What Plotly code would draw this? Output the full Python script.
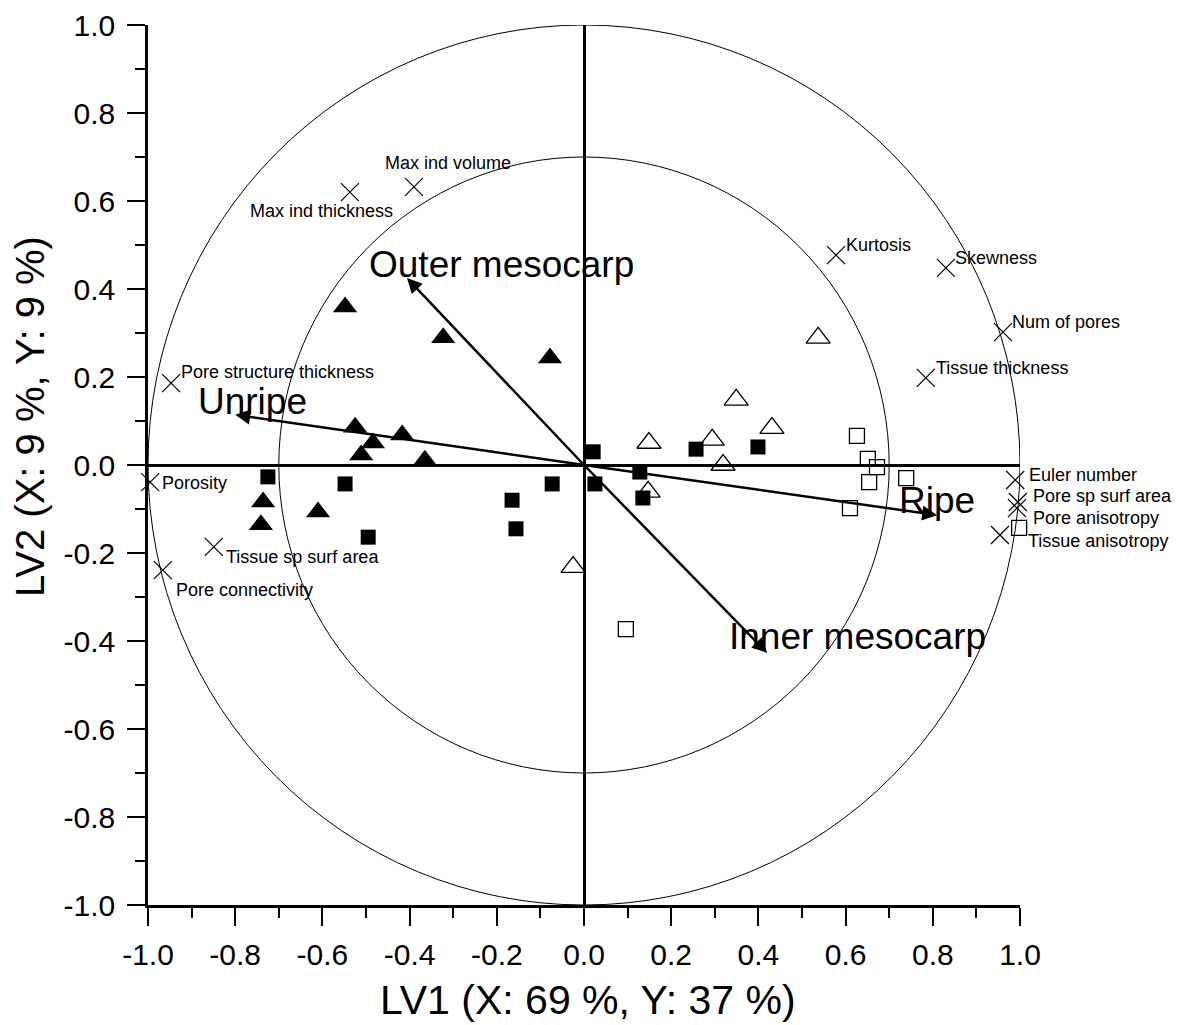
import plotly.graph_objects as go

# ---------------- data ----------------
# Filled triangles
ftri_x = [-0.548, -0.323, -0.078, -0.525, -0.484, -0.417, -0.511, -0.365, -0.736, -0.741, -0.610]
ftri_y = [0.359, 0.289, 0.243, 0.086, 0.050, 0.068, 0.023, 0.011, -0.084, -0.136, -0.107]
# Filled squares
fsq_x = [-0.725, -0.548, -0.495, 0.021, -0.073, -0.165, -0.156, 0.025, 0.128, 0.135, 0.257, 0.399]
fsq_y = [-0.027, -0.043, -0.164, 0.030, -0.043, -0.080, -0.145, -0.043, -0.016, -0.075, 0.036, 0.041]
# Open triangles
otri_x = [0.349, 0.149, 0.294, 0.319, 0.431, 0.147, -0.025, 0.537]
otri_y = [0.148, 0.050, 0.057, 0.000, 0.084, -0.061, -0.232, 0.289]
# Open squares
osq_x = [0.096, 0.626, 0.651, 0.672, 0.654, 0.739, 0.610, 0.998]
osq_y = [-0.373, 0.066, 0.014, -0.005, -0.039, -0.030, -0.098, -0.143]

# Variables (X loadings)
var_names = ["Max ind volume", "Max ind thickness", "Pore structure thickness", "Porosity",
             "Tissue sp surf area", "Pore connectivity", "Kurtosis", "Skewness", "Num of pores",
             "Tissue thickness", "Pore fragmentation", "Euler number", "Pore sp surf area",
             "Pore anisotropy", "Tissue anisotropy"]
var_x = [-0.390, -0.537, -0.947, -0.995, -0.849, -0.966, 0.578, 0.830, 0.961,
         0.784, 1.007, 0.989, 0.995, 0.993, 0.954]
var_y = [0.632, 0.620, 0.186, -0.039, -0.186, -0.239, 0.477, 0.448, 0.302,
         0.198, 0.095, -0.034, -0.084, -0.098, -0.159]

# Group vectors (Y loadings)
grp_names = ["Outer mesocarp", "Unripe", "Ripe", "Inner mesocarp"]
grp_x = [-0.406, -0.800, 0.810, 0.420]
grp_y = [0.425, 0.114, -0.114, -0.427]

circle_radii = [1.0, 0.7]
tick_vals = [-1.0, -0.8, -0.6, -0.4, -0.2, 0.0, 0.2, 0.4, 0.6, 0.8, 1.0]
tick_text = ["-1.0", "-0.8", "-0.6", "-0.4", "-0.2", "0.0", "0.2", "0.4", "0.6", "0.8", "1.0"]
x_title = "LV1 (X: 69 %, Y: 37 %)"
y_title = "LV2 (X: 9 %, Y: 9 %)"

# ---------------- label placement (pixel offsets) ----------------
var_label_style = {
    "Max ind volume": ("center", 34, 24),
    "Max ind thickness": ("center", -28, -19),
    "Pore structure thickness": ("left", 8, 11),
    "Porosity": ("left", 10, -1),
    "Tissue sp surf area": ("left", 10, -10),
    "Pore connectivity": ("left", 11, -20),
    "Kurtosis": ("left", 8, 10),
    "Skewness": ("left", 7, 10),
    "Num of pores": ("left", 7, 10),
    "Tissue thickness": ("left", 8, 10),
    "Pore fragmentation": ("left", 8, 10),
    "Euler number": ("left", 12, 5),
    "Pore sp surf area": ("left", 13, 6),
    "Pore anisotropy": ("left", 14, -10),
    "Tissue anisotropy": ("left", 26, -6),
}
grp_label_shift = {
    "Outer mesocarp": (95, 14),
    "Unripe": (17, 13),
    "Ripe": (0, 15),
    "Inner mesocarp": (90, 16),
}

FONT = "Arial, Liberation Sans, sans-serif"
W, H = 1201, 1025
ML, MR, MT, MB = 148, 181, 25, 120
PW, PH = W - ML - MR, H - MT - MB


def px_to_paper(px, py):
    return (px - ML) / PW, (H - MB - py) / PH


fig = go.Figure()

fig.add_trace(go.Scatter(x=ftri_x, y=ftri_y, mode="markers", name="Unripe outer",
                         marker=dict(symbol="triangle-up", size=21, color="black"),
                         cliponaxis=False))
fig.add_trace(go.Scatter(x=fsq_x, y=fsq_y, mode="markers", name="Unripe inner",
                         marker=dict(symbol="square", size=15, color="black"),
                         cliponaxis=False))
fig.add_trace(go.Scatter(x=otri_x, y=otri_y, mode="markers", name="Ripe outer",
                         marker=dict(symbol="triangle-up-open", size=21, color="black",
                                     line=dict(width=1.3, color="black")),
                         cliponaxis=False))
fig.add_trace(go.Scatter(x=osq_x, y=osq_y, mode="markers", name="Ripe inner",
                         marker=dict(symbol="square-open", size=15, color="black",
                                     line=dict(width=1.3, color="black")),
                         cliponaxis=False))
fig.add_trace(go.Scatter(x=var_x, y=var_y, mode="markers", name="Variables",
                         marker=dict(symbol="x-thin-open", size=18, color="black",
                                     line=dict(width=1.2, color="black")),
                         cliponaxis=False))

# circles
for r in circle_radii:
    fig.add_shape(type="circle", xref="x", yref="y", x0=-r, y0=-r, x1=r, y1=r,
                  line=dict(color="black", width=1), layer="below")

annotations = []
for n, x, y in zip(var_names, var_x, var_y):
    anchor, dx, dy = var_label_style[n]
    annotations.append(dict(x=x, y=y, xref="x", yref="y", text=n, showarrow=False,
                            xanchor=anchor, yanchor="middle", xshift=dx, yshift=dy,
                            font=dict(family=FONT, size=18, color="black")))
for n, x, y in zip(grp_names, grp_x, grp_y):
    annotations.append(dict(x=x, y=y, xref="x", yref="y", ax=0, ay=0, axref="x", ayref="y",
                            text="", showarrow=True, arrowhead=2, arrowsize=1.2,
                            arrowwidth=2.5, arrowcolor="black", standoff=0, startstandoff=0))
    dx, dy = grp_label_shift[n]
    annotations.append(dict(x=x, y=y, xref="x", yref="y", text=n, showarrow=False,
                            xanchor="center", yanchor="middle", xshift=dx, yshift=dy,
                            font=dict(family=FONT, size=37, color="black")))

# axis titles as paper annotations (pixel-placed)
yx, yy = px_to_paper(30, 417)
annotations.append(dict(x=yx, y=yy, xref="paper", yref="paper", text=y_title, showarrow=False,
                        textangle=-90, xanchor="center", yanchor="middle",
                        font=dict(family=FONT, size=40, color="black")))
xx, xy = px_to_paper(588, 1000)
annotations.append(dict(x=xx, y=xy, xref="paper", yref="paper", text=x_title, showarrow=False,
                        xanchor="center", yanchor="middle",
                        font=dict(family=FONT, size=41, color="black")))

axis_common = dict(range=[-1, 1], tickvals=tick_vals, ticktext=tick_text, showgrid=False,
                   showline=True, linecolor="black", linewidth=2.5, mirror=False,
                   ticks="outside", ticklen=18, tickwidth=2, tickcolor="black",
                   zeroline=True, zerolinecolor="black", zerolinewidth=2.5,
                   automargin=False,
                   tickfont=dict(family=FONT, size=30, color="black"),
                   minor=dict(dtick=0.1, tick0=0, ticks="outside", ticklen=10, tickwidth=2,
                              tickcolor="black", showgrid=False))

fig.update_layout(
    width=W, height=H,
    margin=dict(l=ML, r=MR, t=MT, b=MB, pad=0, autoexpand=False),
    plot_bgcolor="white", paper_bgcolor="white",
    showlegend=False,
    xaxis=dict(**axis_common, ticklabelstandoff=3),
    yaxis=dict(**axis_common, ticklabelstandoff=6),
    annotations=annotations,
)

fig.write_html("out.html", config={"displayModeBar": False},
               post_script="document.body.style.margin='0';document.body.style.overflow='hidden';")
